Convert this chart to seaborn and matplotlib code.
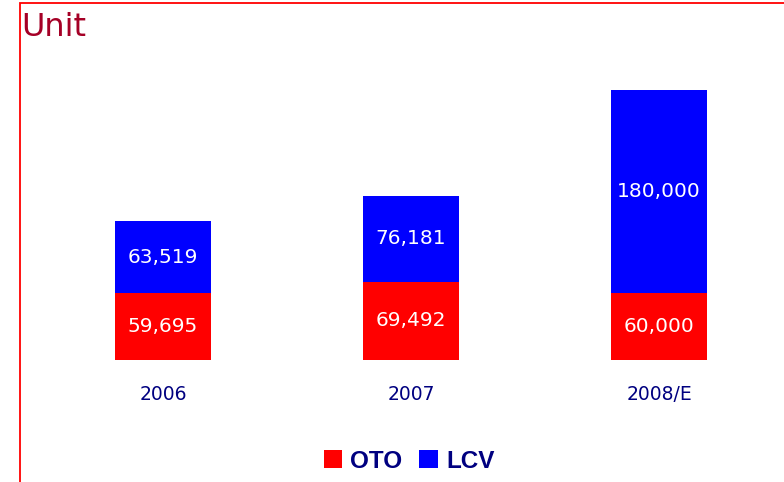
import matplotlib
matplotlib.use("Agg")
import matplotlib.pyplot as plt
import seaborn as sns
import pandas as pd
from matplotlib.patches import Patch, Rectangle

# data
years = ["2006", "2007", "2008/E"]
oto = [59695, 69492, 60000]
lcv = [63519, 76181, 180000]

df = pd.DataFrame({"year": years, "OTO": oto, "LCV": lcv})
df["total"] = df["OTO"] + df["LCV"]

sns.set_style("white")
plt.rcParams["font.family"] = ["DejaVu Sans"]

W, H = 784, 482
fig = plt.figure(figsize=(W / 100, H / 100), dpi=100)

# axes placed so baseline is at y=360px and top of tallest bar at y=90px
ax = fig.add_axes([39 / W, (H - 360) / H, 744 / W, 270 / H])

red = "#ff0000"
blue = "#0000ff"
navy = "#000080"

# stacked bars: total in blue, OTO drawn over in red
sns.barplot(data=df, x="year", y="total", color=blue, width=0.387, saturation=1, linewidth=0, ax=ax)
sns.barplot(data=df, x="year", y="OTO", color=red, width=0.387, saturation=1, linewidth=0, ax=ax)

ax.set_ylim(0, df["total"].max())
ax.set_xlim(-0.5, 2.5)
for s in ax.spines.values():
    s.set_visible(False)
ax.set_yticks([])
ax.set_xlabel("")
ax.set_ylabel("")
ax.tick_params(axis="x", length=0, pad=18, labelsize=13.5, labelcolor=navy)
ax.patch.set_alpha(0)

# value labels
for i in range(len(years)):
    ax.text(i, oto[i] / 2, f"{oto[i]:,}", ha="center", va="center", color="white", fontsize=14.5)
    ax.text(i, oto[i] + lcv[i] / 2, f"{lcv[i]:,}", ha="center", va="center", color="white", fontsize=14.5)

# title
fig.text(21 / W, 1 - 27 / H, "Unit", ha="left", va="center", color="#a50026", fontsize=23)

# red frame (only left and top visible)
fig.patches.append(Rectangle((20 / W, -0.1), 1.2, 1 - 3 / H + 0.1, transform=fig.transFigure,
                             fill=False, edgecolor=red, linewidth=1.3))

handles = [Patch(facecolor=red, edgecolor="none", label="OTO"),
           Patch(facecolor=blue, edgecolor="none", label="LCV")]
fig.legend(handles=handles, loc="center", bbox_to_anchor=(409 / W, 1 - 461 / H), ncol=2, frameon=False,
           prop={"family": "Liberation Sans", "weight": "bold", "size": 17.5}, labelcolor=navy,
           handlelength=0.75, handleheight=0.75, handletextpad=0.35, columnspacing=0.7, borderpad=0)

fig.savefig("out.png", dpi=100)
